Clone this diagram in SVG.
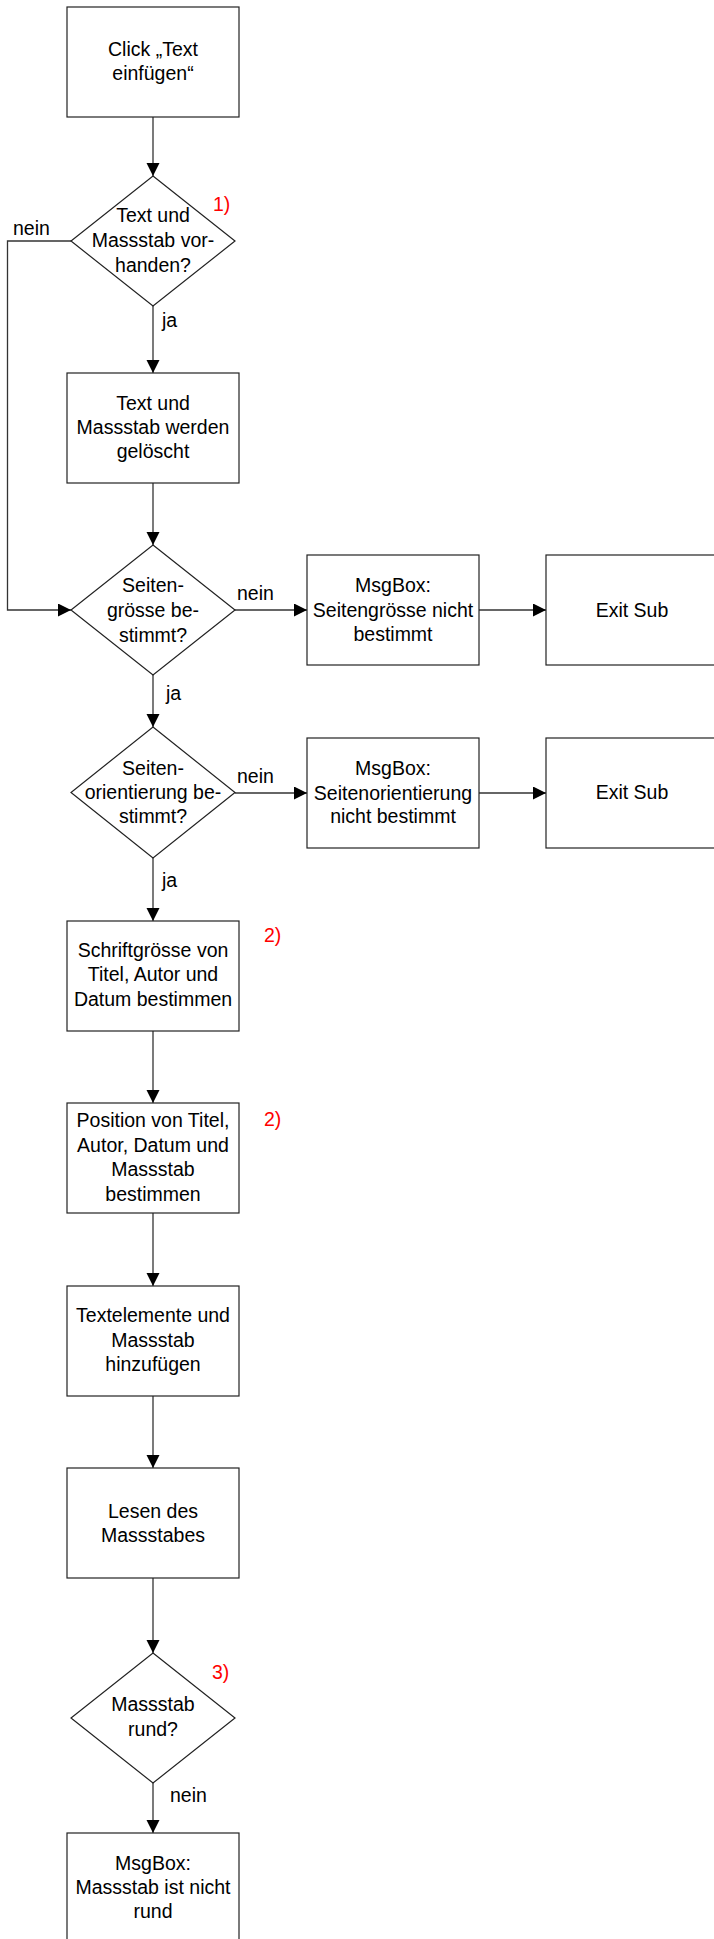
<svg xmlns="http://www.w3.org/2000/svg" width="714" height="1939" viewBox="0 0 714 1939">
<style>
.n{fill:#fff;stroke:#222;stroke-width:1.2}
.t{font-family:"Liberation Sans",Arial,sans-serif;font-size:19.5px;fill:#000;text-anchor:middle}
.l{font-family:"Liberation Sans",Arial,sans-serif;font-size:19.5px;fill:#000}
.r{font-family:"Liberation Sans",Arial,sans-serif;font-size:19.5px;fill:#ff0000}
.c{fill:none;stroke:#333;stroke-width:1.3}
</style>
<defs>
<marker id="ah" markerUnits="userSpaceOnUse" markerWidth="14" markerHeight="14" refX="13" refY="6.5" orient="auto">
<path d="M0,0 L13,6.5 L0,13 z" fill="#000"/>
</marker>
</defs>
<rect width="714" height="1939" fill="#fff"/>
<g id="connectors">
<path class="c" marker-end="url(#ah)" d="M153,117 V176"/>
<path class="c" marker-end="url(#ah)" d="M71,241 H7.5 V610 H71"/>
<path class="c" marker-end="url(#ah)" d="M153,306 V373"/>
<path class="c" marker-end="url(#ah)" d="M153,483 V545"/>
<path class="c" marker-end="url(#ah)" d="M235,610 H307"/>
<path class="c" marker-end="url(#ah)" d="M479,610 H546"/>
<path class="c" marker-end="url(#ah)" d="M153,675 V727"/>
<path class="c" marker-end="url(#ah)" d="M235,793 H307"/>
<path class="c" marker-end="url(#ah)" d="M479,793 H546"/>
<path class="c" marker-end="url(#ah)" d="M153,858 V921"/>
<path class="c" marker-end="url(#ah)" d="M153,1031 V1103"/>
<path class="c" marker-end="url(#ah)" d="M153,1213 V1286"/>
<path class="c" marker-end="url(#ah)" d="M153,1396 V1468"/>
<path class="c" marker-end="url(#ah)" d="M153,1578 V1653"/>
<path class="c" marker-end="url(#ah)" d="M153,1783 V1833"/>
<text class="l" x="13" y="235">nein</text>
<text class="l" x="162" y="327">ja</text>
<text class="l" x="237" y="600">nein</text>
<text class="l" x="166" y="700">ja</text>
<text class="l" x="237" y="783">nein</text>
<text class="l" x="162" y="887">ja</text>
<text class="l" x="170" y="1802">nein</text>
</g>
<g id="start">
<rect class="n" x="67" y="7" width="172" height="110"/>
<text class="t" x="153" y="56">Click „Text</text>
<text class="t" x="153" y="80">einfügen“</text>
</g>
<g id="d1">
<polygon class="n" points="153,176 235,241 153,306 71,241"/>
<text class="t" x="153" y="222">Text und</text>
<text class="t" x="153" y="247">Massstab vor-</text>
<text class="t" x="153" y="272">handen?</text>
<text class="r" x="213" y="211">1)</text>
</g>
<g id="b2">
<rect class="n" x="67" y="373" width="172" height="110"/>
<text class="t" x="153" y="410">Text und</text>
<text class="t" x="153" y="434">Massstab werden</text>
<text class="t" x="153" y="458">gelöscht</text>
</g>
<g id="d2">
<polygon class="n" points="153,545 235,610 153,675 71,610"/>
<text class="t" x="153" y="592">Seiten-</text>
<text class="t" x="153" y="617">grösse be-</text>
<text class="t" x="153" y="642">stimmt?</text>
</g>
<g id="m1">
<rect class="n" x="307" y="555" width="172" height="110"/>
<text class="t" x="393" y="592">MsgBox:</text>
<text class="t" x="393" y="617">Seitengrösse nicht</text>
<text class="t" x="393" y="641">bestimmt</text>
</g>
<g id="e1">
<rect class="n" x="546" y="555" width="172" height="110"/>
<text class="t" x="632" y="617">Exit Sub</text>
</g>
<g id="d3">
<polygon class="n" points="153,727 235,792.5 153,858 71,792.5"/>
<text class="t" x="153" y="775">Seiten-</text>
<text class="t" x="153" y="799">orientierung be-</text>
<text class="t" x="153" y="823">stimmt?</text>
</g>
<g id="m2">
<rect class="n" x="307" y="738" width="172" height="110"/>
<text class="t" x="393" y="775">MsgBox:</text>
<text class="t" x="393" y="800">Seitenorientierung</text>
<text class="t" x="393" y="823">nicht bestimmt</text>
</g>
<g id="e2">
<rect class="n" x="546" y="738" width="172" height="110"/>
<text class="t" x="632" y="799">Exit Sub</text>
</g>
<g id="b3">
<rect class="n" x="67" y="921" width="172" height="110"/>
<text class="t" x="153" y="957">Schriftgrösse von</text>
<text class="t" x="153" y="981">Titel, Autor und</text>
<text class="t" x="153" y="1006">Datum bestimmen</text>
<text class="r" x="264" y="942">2)</text>
</g>
<g id="b4">
<rect class="n" x="67" y="1103" width="172" height="110"/>
<text class="t" x="153" y="1127">Position von Titel,</text>
<text class="t" x="153" y="1152">Autor, Datum und</text>
<text class="t" x="153" y="1176">Massstab</text>
<text class="t" x="153" y="1201">bestimmen</text>
<text class="r" x="264" y="1126">2)</text>
</g>
<g id="b5">
<rect class="n" x="67" y="1286" width="172" height="110"/>
<text class="t" x="153" y="1322">Textelemente und</text>
<text class="t" x="153" y="1347">Massstab</text>
<text class="t" x="153" y="1371">hinzufügen</text>
</g>
<g id="b6">
<rect class="n" x="67" y="1468" width="172" height="110"/>
<text class="t" x="153" y="1518">Lesen des</text>
<text class="t" x="153" y="1542">Massstabes</text>
</g>
<g id="d4">
<polygon class="n" points="153,1653 235,1718 153,1783 71,1718"/>
<text class="t" x="153" y="1711">Massstab</text>
<text class="t" x="153" y="1736">rund?</text>
<text class="r" x="212" y="1679">3)</text>
</g>
<g id="m3">
<rect class="n" x="67" y="1833" width="172" height="110"/>
<text class="t" x="153" y="1870">MsgBox:</text>
<text class="t" x="153" y="1894">Massstab ist nicht</text>
<text class="t" x="153" y="1918">rund</text>
</g>
</svg>
